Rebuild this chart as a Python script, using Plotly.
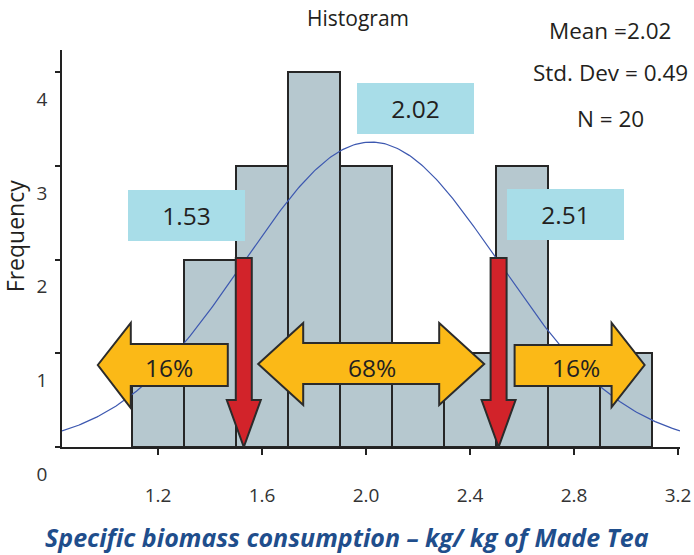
import numpy as np
import plotly.graph_objects as go

# ---- data ----
BIN_CENTERS = [1.2, 1.4, 1.6, 1.8, 2.0, 2.2, 2.4, 2.6, 2.8, 3.0]
FREQUENCIES = [1, 2, 3, 4, 3, 1, 1, 3, 1, 1]
BIN_WIDTH = 0.2
MEAN = 2.02
STD_DEV = 0.49
N = 20
SIGMA_LOW = 1.53
SIGMA_HIGH = 2.51
X_TICKS = [1.2, 1.6, 2.0, 2.4, 2.8, 3.2]
X_TICK_LABELS = ["1.2", "1.6", "2.0", "2.4", "2.8", "3.2"]
Y_TICKS = [0, 1, 2, 3, 4]
Y_TICK_LABELS = ["0", "1", "2", "3", "4"]
SHARE_LABELS = ["16%", "68%", "16%"]

X_RANGE = [0.8308, 3.2077]
Y_RANGE = [0, 4.24]

FONT = "Open Sans"
TEXT = "#231f20"

# fitted normal curve (SPSS-style) from the stated mean / sd / N
xc = np.linspace(X_RANGE[0], X_RANGE[1], 300)
yc = N * BIN_WIDTH * np.exp(-0.5 * ((xc - MEAN) / STD_DEV) ** 2) / (STD_DEV * np.sqrt(2 * np.pi))

fig = go.Figure()
fig.add_trace(go.Bar(
    x=BIN_CENTERS, y=FREQUENCIES, width=BIN_WIDTH,
    marker=dict(color="#b6c8cf", line=dict(color="#262626", width=2)),
    hoverinfo="skip", showlegend=False,
))
fig.add_trace(go.Scatter(
    x=xc, y=yc, mode="lines",
    line=dict(color="#3d58b0", width=1.2),
    hoverinfo="skip", showlegend=False,
))

YELLOW = "#fbb917"
RED = "#d2232a"
EDGE = "#2b2b2b"

shapes = []
# yellow horizontal arrows (pixel paths anchored at data x, baseline y)
shapes.append(dict(type="path", xref="x", yref="y", xsizemode="pixel", ysizemode="pixel",
                   xanchor=SIGMA_LOW, yanchor=0,
                   path="M -146,82 L -113,124 L -113,103 L -16,103 L -16,61 L -113,61 L -113,39 Z",
                   fillcolor=YELLOW, line=dict(color=EDGE, width=2), layer="above"))
shapes.append(dict(type="path", xref="x", yref="y", xsizemode="pixel", ysizemode="pixel",
                   xanchor=MEAN, yanchor=0,
                   path="M -113,83 L -68,124 L -68,104 L 68,104 L 68,124 L 113,83 L 68,42 L 68,63 L -68,63 L -68,42 Z",
                   fillcolor=YELLOW, line=dict(color=EDGE, width=2), layer="above"))
shapes.append(dict(type="path", xref="x", yref="y", xsizemode="pixel", ysizemode="pixel",
                   xanchor=SIGMA_HIGH, yanchor=0,
                   path="M 16,102 L 113,102 L 113,124 L 146,82 L 113,40 L 113,61 L 16,61 Z",
                   fillcolor=YELLOW, line=dict(color=EDGE, width=2), layer="above"))
# red downward arrows at mean -/+ 1 sd
for xv in (SIGMA_LOW, SIGMA_HIGH):
    shapes.append(dict(type="path", xref="x", yref="y", xsizemode="pixel", ysizemode="pixel",
                       xanchor=xv, yanchor=0,
                       path="M -8,189 L 8,189 L 8,47 L 17,47 L 0,0 L -17,47 L -8,47 Z",
                       fillcolor=RED, line=dict(color=EDGE, width=2), layer="above"))

annotations = []
# percentage labels
for xv, lab, dx in zip((SIGMA_LOW, MEAN, SIGMA_HIGH), SHARE_LABELS, (-75, 1, 77)):
    annotations.append(dict(x=xv, y=0, xref="x", yref="y", xshift=dx, yshift=80,
                            text=lab, showarrow=False, xanchor="center", yanchor="middle",
                            font=dict(family=FONT, size=24.5, color=TEXT)))
# light blue value boxes
for xv, dx, dy in ((SIGMA_LOW, -57, 232), (MEAN, 44, 339), (SIGMA_HIGH, 67, 233)):
    annotations.append(dict(x=xv, y=0, xref="x", yref="y", xshift=dx, yshift=dy,
                            text=f"{xv:.2f}", showarrow=False, xanchor="center", yanchor="middle",
                            width=117, height=51, bgcolor="#a8dde8", borderpad=0, borderwidth=0,
                            font=dict(family=FONT, size=24.5, color=TEXT)))
# title and stats
annotations.append(dict(x=0.479, y=1, xref="paper", yref="paper", yshift=32, text="Histogram",
                        showarrow=False, xanchor="center", yanchor="middle",
                        font=dict(family=FONT, size=21, color=TEXT)))
for txt, dy in ((f"Mean ={MEAN:.2f}", 20), (f"Std. Dev = {STD_DEV:.2f}", -22), (f"N = {N}", -68)):
    annotations.append(dict(x=0.887, y=1, xref="paper", yref="paper", yshift=dy, text=txt,
                            showarrow=False, xanchor="center", yanchor="middle",
                            font=dict(family=FONT, size=22.5, color=TEXT)))
# axis titles
annotations.append(dict(x=0, y=0.531, xref="paper", yref="paper", xshift=-47, text="Frequency",
                        textangle=-90, showarrow=False, xanchor="center", yanchor="middle",
                        font=dict(family=FONT, size=23, color=TEXT)))
annotations.append(dict(x=0.461, y=0, xref="paper", yref="paper", yshift=-90,
                        text="<b><i>Specific biomass consumption – kg/ kg of Made Tea</i></b>",
                        showarrow=False, xanchor="center", yanchor="middle",
                        font=dict(family=FONT, size=25, color="#1f4e8c")))

fig.update_layout(
    width=694, height=555,
    margin=dict(l=62, r=14, t=50, b=108, autoexpand=False),
    paper_bgcolor="white", plot_bgcolor="white",
    bargap=0, shapes=shapes, annotations=annotations,
    xaxis=dict(range=X_RANGE, tickvals=X_TICKS, ticktext=X_TICK_LABELS,
               showline=True, linecolor="#222", linewidth=2, ticks="outside", ticklen=6,
               tickwidth=1.5, tickcolor="#222", showgrid=False, zeroline=False,
               ticklabelstandoff=24, tickfont=dict(family=FONT, size=19, color="#333"),
               fixedrange=True),
    yaxis=dict(range=Y_RANGE, tickvals=Y_TICKS, ticktext=Y_TICK_LABELS,
               showline=True, linecolor="#222", linewidth=1.5, ticks="outside", ticklen=5,
               tickwidth=1.5, tickcolor="#222", showgrid=False, zeroline=False,
               ticklabelshift=27, ticklabelstandoff=4,
               tickfont=dict(family=FONT, size=19, color="#333"), fixedrange=True),
)

fig.write_html("out.html", config={"displayModeBar": False},
               post_script="document.body.style.margin='0';document.body.style.overflow='hidden';")
